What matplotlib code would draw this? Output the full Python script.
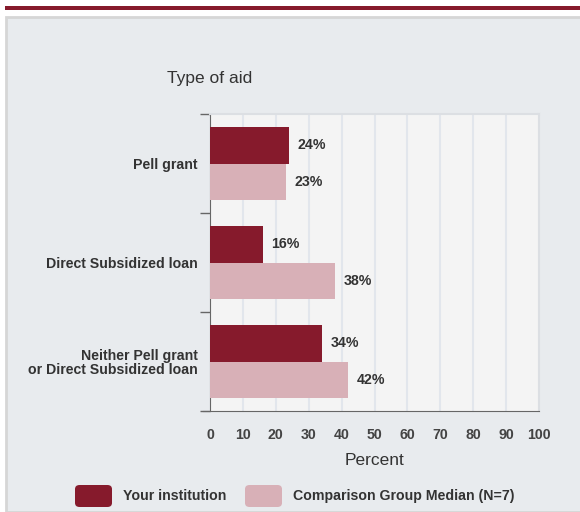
import matplotlib.pyplot as plt
from matplotlib.patches import Rectangle, FancyBboxPatch

plt.rcParams['font.family'] = ['Liberation Sans', 'DejaVu Sans']

categories = ['Pell grant', 'Direct Subsidized loan', 'Neither Pell grant\nor Direct Subsidized loan']
institution = [24, 16, 34]
comparison = [23, 38, 42]
series_names = ['Your institution', 'Comparison Group Median (N=7)']
xticks = [0, 10, 20, 30, 40, 50, 60, 70, 80, 90, 100]

dark = '#861a2c'
light = '#d8b0b7'
text_col = '#333333'
fs = 10.2

W, H = 580, 512
fig = plt.figure(figsize=(W / 100, H / 100), dpi=100)
fig.patch.set_facecolor('white')

# top maroon strip and grey panel
fig.add_artist(Rectangle((5 / W, 1 - 10 / H), 575 / W, 4 / H, transform=fig.transFigure,
                         facecolor=dark, edgecolor='none', zorder=-2))
fig.add_artist(Rectangle((6 / W, 0), 580 / W, 1 - 17 / H, transform=fig.transFigure,
                         facecolor='#e8ebee', edgecolor='#d6d6d6', linewidth=2, zorder=-2))

ax = fig.add_axes([210 / W, 1 - 411 / H, 329 / W, 297 / H])
ax.set_facecolor('#f4f4f4')

h = 0.364
pos = [i + 0.5 for i in range(len(categories))]
ax.barh([p - h / 2 for p in pos], institution, height=h, color=dark, edgecolor='none', zorder=3)
ax.barh([p + h / 2 for p in pos], comparison, height=h, color=light, edgecolor='none', zorder=3)

for p, v in zip(pos, institution):
    ax.annotate(f'{v}%', (v, p - h / 2), xytext=(6, 0), textcoords='offset points',
                va='center', ha='left', fontsize=fs, fontweight='bold', color=text_col)
for p, v in zip(pos, comparison):
    ax.annotate(f'{v}%', (v, p + h / 2), xytext=(6, 0), textcoords='offset points',
                va='center', ha='left', fontsize=fs, fontweight='bold', color=text_col)

ax.set_xlim(0, 100)
ax.set_ylim(len(categories), 0)
ax.set_xticks(xticks)
ax.set_xticklabels([str(t) for t in xticks], fontsize=fs, fontweight='bold', color='#444444')
ax.tick_params(axis='x', length=0, pad=12)
ax.set_yticks([0, 1, 2, 3])
ax.set_yticklabels([])
ax.tick_params(axis='y', length=7, color='#666666', width=1)
ax.set_yticks(pos, minor=True)
ax.set_yticklabels(categories, minor=True, fontsize=fs, fontweight='bold', color=text_col,
                   linespacing=1.0)
ax.tick_params(axis='y', which='minor', length=0, pad=9)

ax.grid(axis='x', color='#e2e6ec', linewidth=1.5, zorder=0)
for s in ['top', 'right']:
    ax.spines[s].set_color('#dcdfe3')
    ax.spines[s].set_linewidth(1.5)
ax.spines['left'].set_color('#666666')
ax.spines['bottom'].set_color('#666666')
ax.spines['bottom'].set_bounds(-2.2, 100)
ax.spines['bottom'].set_clip_on(False)

ax.set_xlabel('Percent', fontsize=12.5, color=text_col, labelpad=8)
fig.text(210 / W, 1 - 79 / H, 'Type of aid', fontsize=12.5, color=text_col, ha='center', va='center')

# legend
for x0, col, name in [(75, dark, series_names[0]), (245, light, series_names[1])]:
    fig.add_artist(FancyBboxPatch((x0 / W, 1 - 507 / H), 37 / W, 22 / H,
                                  boxstyle='round,pad=0,rounding_size=0.008',
                                  transform=fig.transFigure, facecolor=col, edgecolor='none'))
    fig.text((x0 + 48) / W, 1 - 496 / H, name, fontsize=fs, fontweight='bold',
             color=text_col, va='center', ha='left')

fig.savefig('out.png', dpi=100)
